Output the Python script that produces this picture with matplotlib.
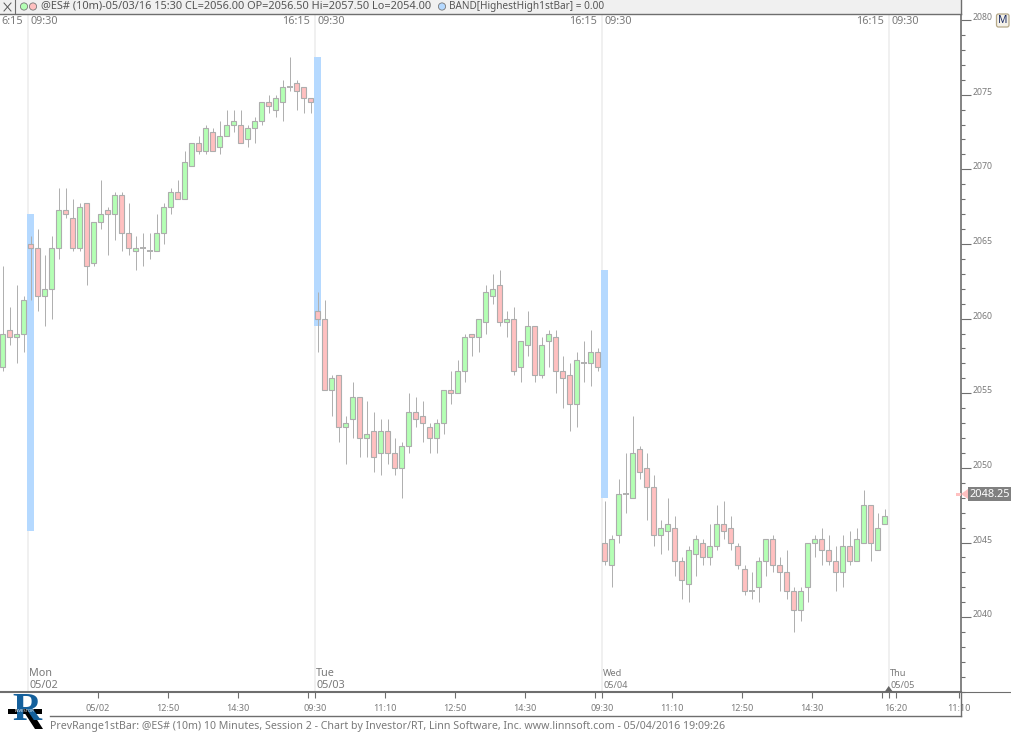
import matplotlib
matplotlib.use("Agg")
import matplotlib.pyplot as plt
from matplotlib.transforms import ScaledTranslation, blended_transform_factory
from matplotlib.patches import Rectangle, Polygon, Circle, FancyBboxPatch
from matplotlib.collections import LineCollection

opens = [2056.75,2059.25,2058.75,2059.0,2065,2064.75,2061.5,2062,2064.75,2067.25,2066.75,2064.75,2067.75,2063.75,2066.5,2067.25,2067,2068.25,2065.75,2064.5,2064.75,2064.5,2064.5,2065.75,
 2067.5,2068.5,2068,2070.25,2071.75,2071.25,2072.5,2071.5,2072.25,2073,2073,2072,2072.75,2073.25,2074.5,2074,2074.5,2075.5,2075.75,2075.5,2074.75,
 2060.5,2060,2055.25,2056.25,2052.75,2053.25,2054.75,2052,2052.5,2051,2052.5,2051,2050,2051.5,2053.75,2053.5,2052.75,2052,2053,2055.25,2055,
 2056.5,2059,2058.75,2059.75,2061.5,2062.25,2059.75,2060,2056.75,2058.25,2059.5,2056.25,2058.5,2058.75,2056.5,2056.25,2054.25,2057,2057,2057.75,
 2045,2043.5,2045.5,2048.25,2048,2051.25,2050,2048.75,2045.5,2045.75,2046,2043.75,2042.25,2044.25,2045,2044,2044.75,2046.25,2046,2044.75,
 2043.25,2041.75,2042,2043.75,2045.25,2043.5,2043,2041.75,2040.5,2042,2045,2045.25,2044.5,2043.75,2043,2044.75,2043.75,2045,2047.5,2044.5,2046.25]
closes = [2059.0,2058.75,2059,2061.25,2064.75,2061.5,2062,2064.75,2067.25,2067,2064.75,2067.5,2063.5,2066.5,2067,2067,2068.25,2065.75,2064.75,2064.75,2064.75,2064.5,2065.75,2067.5,
 2068.5,2068,2070.5,2071.75,2071.25,2072.75,2071.25,2072.25,2073,2073.25,2071.75,2072.75,2073.25,2074.5,2074.25,2074.75,2075.5,2075.5,2075.25,2074.75,2074.5,
 2060,2055.25,2056,2052.75,2053,2054.75,2052,2052.25,2050.75,2052.5,2051,2050,2051.5,2053.75,2053.25,2053,2052,2053,2055.25,2055,2056.5,
 2058.75,2058.75,2060,2061.75,2062,2059.75,2060,2056.5,2058.5,2059.5,2056.25,2058.25,2059,2056.5,2056,2054.25,2057.25,2057,2057.75,2056.75,
 2043.75,2045.25,2048.25,2048.25,2051,2049.75,2048.75,2045.5,2046,2046.25,2043.75,2042.5,2044.5,2045.25,2044,2044.75,2046.25,2045.75,2045,2043.5,
 2041.75,2041.75,2043.75,2045.25,2043.5,2043,2041.75,2040.5,2041.75,2045,2045.25,2044.5,2043.75,2043,2044.75,2043.75,2045.25,2047.5,2045,2046,2046.75]
highs = [2063.5,2060.75,2062.25,2061.5,2065.5,2066,2064.25,2065.5,2068.75,2068.75,2068,2067.75,2067.75,2066.5,2069.25,2067.5,2068.5,2068.5,2067.75,2065.5,2065.75,2065.75,2067,2067.75,
 2068.75,2069.25,2071.25,2071.75,2072.25,2073,2072.75,2073.25,2074,2074,2074,2073,2073.5,2074.5,2075,2075,2076,2077.5,2076,2075.5,2074.75,
 2061.75,2061.25,2056.25,2056.25,2053.5,2055.75,2054.75,2054.5,2053.75,2053.25,2053.25,2052,2051.75,2055,2054.75,2054.5,2053,2053.25,2055.25,2056.5,2057.25,
 2059,2059,2060,2062.25,2063,2063.25,2060.5,2060.75,2058.5,2060.5,2059.5,2058.75,2059.25,2059.25,2057.5,2057,2057.75,2058.5,2059.25,2058,
 2047.75,2045.5,2049.25,2051,2053.5,2051.5,2051,2049.5,2046.5,2048,2046.75,2044,2044.75,2045.5,2045.25,2046.25,2047.5,2047.75,2046.75,2045,
 2043.5,2043,2044,2045.25,2045.5,2044,2044.5,2042,2042,2045,2045.5,2046,2045.5,2044.75,2045.5,2045.75,2046,2048.5,2047.5,2047,2047.25]
lows = [2056.5,2058.25,2057,2057.75,2061.25,2060.5,2059.5,2060,2064,2066.75,2064.5,2064.5,2062.25,2063.5,2066,2064.25,2065.25,2064.5,2064.25,2063.25,2063.5,2064,2064.5,2065,
 2067,2068,2068,2070.25,2071,2071,2071.25,2071,2072.25,2072.5,2071.75,2071.5,2071.75,2073,2073.75,2073.5,2073.25,2075.25,2074,2073.75,2073.75,
 2057.75,2055.25,2053.5,2051.75,2050.25,2052,2050.75,2050.75,2049.75,2049.5,2050.25,2049.5,2048,2051,2052.75,2051.75,2051,2051,2052.25,2054.25,2055,
 2055.75,2057.5,2057.75,2059,2061,2059.5,2058.75,2056.25,2055.75,2057.5,2055.75,2056,2056.75,2055,2054,2052.5,2052.75,2055.75,2055.5,2056.5,
 2043.5,2042,2045,2047,2048,2049.25,2046.5,2044.75,2044.25,2044.5,2042.75,2041.25,2041,2042.75,2043.5,2043.5,2044.5,2045.25,2044.5,2043.25,
 2041.5,2041.25,2041,2042.75,2043,2041.75,2041.25,2039,2039.75,2041,2044,2043.5,2043.5,2041.75,2042,2043.5,2043.75,2045,2043.75,2044.5,2046.25]

session_starts = [4, 45, 86, 127]
band_bars = [4, 45, 86]
band_highs = [2067.0, 2077.5, 2063.25]
band_lows = [2045.75, 2059.5, 2048.0]
day_names = ["Mon", "Tue", "Wed", "Thu"]
day_dates = ["05/02", "05/03", "05/04", "05/05"]
close_labels = ["6:15", "16:15", "16:15", "16:15"]
y_major = [2040, 2045, 2050, 2055, 2060, 2065, 2070, 2075, 2080]
y_minor = list(range(2035, 2081))
x_tick_bars = [14, 24, 34, 44, 45, 55, 65, 75, 85, 86, 96, 106, 116, 126, 127, 128, 137]
x_tick_labels = ["05/02", "12:50", "14:30", "", "09:30", "11:10", "12:50", "14:30", "", "09:30", "11:10", "12:50", "14:30", "", "", "16:20", "11:10"]
last_price = 2048.25

W, H = 1011, 733
FONT = "Noto Sans"
plt.rcParams["font.family"] = [FONT, "DejaVu Sans"]
GREY = "#7a7a7a"
AX = "#6e6e6e"
fig = plt.figure(figsize=(W / 100, H / 100), dpi=100, facecolor="white")
L, R, T, B = 0, 960.5, 14, 692
ax = fig.add_axes([L / W, 1 - B / H, (R - L) / W, (B - T) / H])
ax.set_xlim((L - 2.7) / 7, (R - 2.7) / 7)
ax.set_ylim(2080 - (B - 20) / 14.93, 2080 + (20 - T) / 14.93)
for s in ["left", "top"]:
    ax.spines[s].set_visible(False)
ax.spines["right"].set_color(AX)
ax.spines["right"].set_linewidth(1.2)
ax.spines["bottom"].set_color(AX)
ax.spines["bottom"].set_linewidth(1.5)

OFF = 0.43
for i in session_starts:
    ax.axvline(i - OFF, color="#f0f0f0", lw=1.4, zorder=1)
for b, hi, lo in zip(band_bars, band_highs, band_lows):
    ax.bar(b, hi - lo, bottom=lo, width=1.0, color="#b5d9ff", lw=0, zorder=2)

n = len(opens)
segs = [[(i, lows[i]), (i, highs[i])] for i in range(n)]
ax.add_collection(LineCollection(segs, colors="#b0b0b0", linewidths=0.72, zorder=3, antialiased=True, capstyle="butt"))
for i in range(n):
    o, c = opens[i], closes[i]
    if o == c:
        ax.plot([i - 0.4, i + 0.4], [o, o], color="#b0b0b0", lw=1.4, zorder=4, solid_capstyle="butt")
    else:
        ax.bar(i, abs(c - o), bottom=min(o, c), width=5.0 / 7,
               facecolor="#b4ffb4" if c > o else "#ffc0c0",
               edgecolor="#adadad", linewidth=0.8, zorder=4)

ax.yaxis.tick_right()
ax.set_yticks(y_major)
ax.set_yticks(y_minor, minor=True)
ax.tick_params(axis="y", which="major", length=7.2, width=0.8, color=AX, labelsize=6.3, labelcolor=GREY, pad=1.5)
ax.tick_params(axis="y", which="minor", length=3, width=0.8, color=AX)
off = ScaledTranslation(0, 3.5 / 100, fig.dpi_scale_trans)
for lab in ax.yaxis.get_majorticklabels():
    lab.set_transform(lab.get_transform() + off)
    lab.set_clip_on(False)

ax.set_xticks([b - OFF for b in x_tick_bars])
ax.set_xticklabels(x_tick_labels)
ax.tick_params(axis="x", length=4.3, width=0.8, color=AX, labelsize=6.5, labelcolor=GREY, pad=4.5)

tr = blended_transform_factory(ax.transData, fig.transFigure)
def fy(py):
    return 1 - py / H
for k, i in enumerate(session_starts):
    x = i - OFF
    ax.text(x - 0.65, fy(21), close_labels[k], transform=tr, ha="right", va="center", fontsize=7.8, color=GREY)
    ax.text(x + 0.35, fy(21), "09:30", transform=tr, ha="left", va="center", fontsize=7.8, color=GREY)
    fs = 7.8 if k < 2 else 6.6
    ax.text(x + 0.2, fy(673), day_names[k], transform=tr, ha="left", va="center", fontsize=fs, color=GREY)
    ax.text(x + 0.2, fy(686), day_dates[k], transform=tr, ha="left", va="center", fontsize=fs, color=GREY)

# overlay drawn in screen pixels for the application chrome
ov = fig.add_axes([0, 0, 1, 1], zorder=10)
ov.set_xlim(0, W)
ov.set_ylim(H, 0)
ov.axis("off")
ov.patch.set_alpha(0)
ov.add_patch(Rectangle((0, 0), 960.5, 13.5, fc="#f0f0f0", ec="none"))
ov.plot([0, 960.5], [13.5, 13.5], color=AX, lw=1)
ov.plot([960.5, 960.5], [0, 14], color=AX, lw=1)
ov.plot([15, 15], [0, 13], color=AX, lw=0.8)
ov.plot([4, 11], [3, 11], color="#555555", lw=0.7)
ov.plot([4, 11], [11, 3], color="#555555", lw=0.7)
ov.add_patch(Circle((24, 6.5), 3.6, fc="#b4ffb4", ec="#777777", lw=0.6))
ov.add_patch(Circle((33, 6.5), 3.6, fc="#ffc0c0", ec="#777777", lw=0.6))
ov.add_patch(Circle((442, 6.5), 3.6, fc="#b5d9ff", ec="#777777", lw=0.6))
ov.text(41, 6.5, "@ES# (10m)-05/03/16 15:30 CL=2056.00 OP=2056.50 Hi=2057.50 Lo=2054.00", fontsize=7.9, color="#555555", va="center", ha="left")
ov.text(449, 6.5, "BAND[HighestHigh1stBar] = 0.00", fontsize=7.2, color="#555555", va="center", ha="left")
# M button
ov.add_patch(FancyBboxPatch((998, 15.5), 9.5, 10, boxstyle="round,pad=1.5,rounding_size=2", fc="#f4f1e8", ec="#b5a888", lw=0.9))
ov.text(1002.8, 20.5, "M", fontsize=7.5, color="#1c2c66", ha="center", va="center")
# last price tag
py = 20 + (2080 - last_price) * 14.93
ov.add_patch(Rectangle((968, py - 7), 43, 14, fc="#808080", ec="none"))
ov.add_patch(Polygon([(961, py), (968, py - 5), (968, py + 5)], fc="#ffc0c0", ec="none"))
ov.add_patch(Rectangle((956, py - 1.5), 5, 3, fc="#ffc0c0", ec="none"))
ov.text(989.5, py, f"{last_price:.2f}", fontsize=7.9, color="white", ha="center", va="center")
# bottom lines
ov.plot([960.5, 1011], [692, 692], color=AX, lw=0.8)
ov.plot([50, 960.5], [716, 716], color=AX, lw=1)
ov.plot([960.5, 960.5], [692, 716], color=AX, lw=1)
ov.add_patch(Polygon([(888.7, 686), (884.5, 692), (893, 692)], fc="#666666", ec="none"))
ov.text(50, 726, "PrevRange1stBar: @ES# (10m) 10 Minutes, Session 2 - Chart by Investor/RT, Linn Software, Inc. www.linnsoft.com - 05/04/2016 19:09:26",
        fontsize=7.63, color=GREY, ha="left", va="center")
# logo
ov.text(12, 711, "R", fontsize=29, family="Liberation Serif", weight="bold", color="#14609c", ha="left", va="center")
ov.add_patch(Polygon([(24, 712), (32, 712), (43, 729), (35, 729)], fc="black", ec="none"))
ov.add_patch(Rectangle((8, 709), 34, 5, fc="black", ec="none"))
ov.text(25, 711.5, "INVESTOR", fontsize=3, color="white", ha="center", va="center", weight="bold")

fig.savefig("out.png", dpi=100)
